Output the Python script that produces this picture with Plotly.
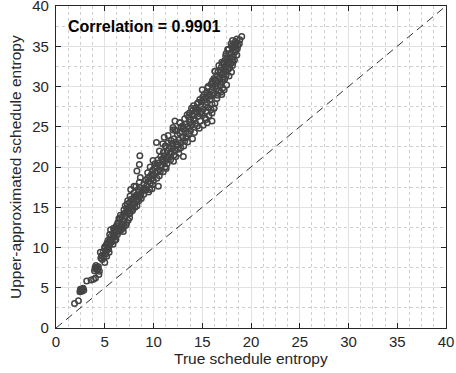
import plotly.graph_objects as go

# True schedule entropy (x) and upper-approximated schedule entropy (y)
true_entropy = [
    1.90, 2.30, 2.45, 2.55, 2.62, 2.70, 2.78, 2.85, 2.50, 2.66,
    3.15, 3.60, 3.85, 4.05, 4.40, 3.95, 4.05, 4.15, 4.25, 4.35, 4.45, 4.10, 4.00, 4.30,
    4.55, 4.75, 5.00, 4.70, 4.90, 5.10, 5.20, 5.30, 5.40, 5.45, 5.20, 4.85, 5.00, 5.15, 4.60, 5.35,
    5.50, 5.60, 5.70, 5.55, 5.80, 5.90, 6.00, 6.10, 5.75, 5.65, 6.20, 6.30, 5.95, 6.05,
    6.40, 6.50, 6.60, 6.70, 6.90, 6.80, 6.20, 6.35, 7.00, 7.20, 6.55, 6.75, 7.10, 7.40, 6.95,
    6.97, 7.20, 7.40, 7.50, 7.65, 7.80, 7.30, 7.55, 7.95, 8.10, 7.70, 8.00, 8.25, 7.45, 8.40, 8.20,
    8.00, 8.30, 8.50, 8.70, 8.90, 8.60, 8.80, 9.10, 9.00, 9.30, 8.45, 9.50, 9.20, 9.70, 8.75, 9.40, 10.00,
    9.60, 9.80, 10.00, 10.20, 10.40, 9.90, 10.10, 10.30, 10.60, 10.80, 10.50, 10.70, 11.00, 9.75, 11.20, 10.45,
    10.90, 11.10, 11.30, 11.50, 11.70, 11.00, 11.40, 11.60, 11.80, 12.00, 11.25, 12.20, 12.40, 11.90, 12.10, 12.55, 10.75,
    11.80, 12.10, 12.30, 12.60, 12.80, 13.00, 13.20, 12.45, 12.70, 12.90, 13.40, 13.60, 12.20, 13.10, 13.80, 13.30, 12.00,
    12.70, 13.00, 13.30, 13.50, 13.70, 13.90, 14.10, 14.30, 14.50, 13.60, 14.00, 14.20, 14.60, 14.80, 15.00, 15.30, 13.20, 14.40,
    13.70, 14.00, 14.30, 14.60, 14.85, 15.10, 15.35, 15.60, 14.50, 14.90, 15.20, 15.50, 15.80, 16.00, 15.05, 15.75, 16.20,
    15.20, 15.45, 15.70, 15.95, 16.20, 16.45, 16.70, 15.60, 15.90, 16.10, 16.40, 16.60, 16.85, 17.10, 16.30, 17.00, 17.30,
    16.20, 16.50, 16.75, 17.00, 17.25, 16.60, 16.90, 17.15, 17.40, 17.65, 16.95, 17.50, 17.80, 17.20, 16.30,
    17.00, 17.30, 17.55, 17.80, 18.05, 17.40, 17.70, 17.95, 18.20, 18.45, 17.60, 18.10, 18.35, 17.85,
    17.70, 18.00, 18.25, 18.50, 18.65, 18.80, 19.05, 18.40,
    7.66, 8.00, 8.30, 8.55, 8.60, 10.30, 11.10, 12.00, 12.20, 12.70, 13.70, 13.90, 14.60, 16.30,
    10.50, 8.10, 13.06, 16.00, 16.20, 17.00, 17.70,
    5.00, 5.25, 5.50, 5.85, 6.15, 5.35, 5.60, 5.90,
    6.10, 6.45, 6.85, 7.25, 7.55, 6.60, 7.00, 7.60, 6.30,
    7.10, 7.35, 7.85, 8.30, 8.50, 7.60, 7.90, 8.60, 7.25,
    8.20, 8.55, 9.00, 9.50, 9.85, 8.65, 9.20, 9.90, 8.40, 9.60,
    9.40, 9.65, 10.15, 10.60, 11.00, 11.30, 9.95, 10.35, 10.90, 11.40,
    10.60, 11.20, 11.75, 12.30, 12.60, 10.95, 11.50, 12.05, 12.80, 11.35,
    11.50, 12.00, 12.50, 13.10, 13.50, 14.00, 12.35, 12.85, 13.70, 14.20,
    13.10, 13.45, 14.70, 15.10, 15.50, 15.70, 13.80, 14.90, 15.40, 16.00,
    14.10, 14.40, 14.75, 15.40, 15.90, 16.30, 16.50, 14.75, 15.55, 16.10,
    15.00, 15.35, 15.85, 16.55, 16.90, 17.25, 17.50, 16.05, 15.55, 16.75,
    16.05, 16.40, 17.10, 17.45, 17.75, 18.00, 16.70, 17.30, 18.10,
    17.15, 17.45, 17.90, 18.30, 18.55, 17.65, 18.15, 18.60,
    17.95, 18.25, 18.55, 18.85, 18.45, 18.10,
]
upper_entropy = [
    3.05, 3.40, 4.50, 4.62, 4.75, 4.85, 4.95, 4.70, 4.80, 4.55,
    5.85, 5.95, 6.05, 6.20, 6.65, 7.10, 7.35, 7.55, 7.20, 7.60, 7.05, 7.75, 7.50, 7.40,
    9.40, 8.50, 8.15, 9.00, 8.80, 9.20, 9.60, 10.00, 9.80, 9.40, 8.90, 9.50, 9.90, 10.30, 8.70, 10.40,
    10.30, 10.60, 10.90, 11.00, 11.20, 11.50, 11.80, 11.30, 10.70, 11.40, 12.00, 11.60, 12.10, 10.90,
    12.30, 12.00, 12.60, 12.20, 12.00, 12.90, 12.70, 13.10, 13.30, 12.80, 13.50, 13.80, 13.90, 13.40, 14.20,
    14.70, 14.40, 14.90, 14.20, 15.10, 14.80, 15.40, 15.60, 15.30, 15.00, 16.00, 16.20, 15.70, 14.50, 16.10, 16.50,
    16.80, 16.40, 16.90, 16.60, 17.20, 17.50, 17.00, 17.40, 17.90, 17.70, 17.20, 18.20, 18.40, 18.00, 16.10, 18.60, 18.30,
    18.80, 19.10, 18.90, 19.30, 19.50, 19.60, 19.90, 20.10, 19.70, 20.20, 20.50, 19.40, 20.60, 18.50, 20.00, 20.90,
    21.00, 21.40, 20.80, 21.20, 21.60, 21.80, 22.00, 22.30, 21.90, 22.40, 22.60, 22.10, 22.80, 22.90, 21.50, 22.20, 21.30,
    23.30, 23.50, 23.10, 23.40, 23.00, 23.70, 23.20, 24.00, 24.20, 24.40, 23.80, 24.10, 24.60, 24.80, 24.50, 23.60, 24.90,
    25.50, 25.10, 25.30, 25.00, 25.60, 25.20, 25.80, 25.40, 25.10, 26.20, 26.40, 26.00, 26.30, 25.70, 26.60, 26.10, 26.00, 26.80,
    26.70, 27.00, 27.30, 27.10, 27.50, 27.20, 27.70, 27.40, 27.90, 28.10, 28.30, 28.00, 28.40, 27.80, 28.70, 28.90, 27.30,
    29.00, 29.30, 29.10, 29.50, 29.20, 29.70, 29.40, 30.00, 30.30, 29.90, 30.10, 30.50, 30.20, 29.80, 30.80, 30.60, 30.90,
    31.00, 31.30, 31.10, 31.50, 31.20, 31.80, 32.00, 31.70, 31.90, 32.10, 32.40, 32.50, 32.30, 32.80, 31.90,
    33.00, 33.20, 33.50, 33.10, 33.40, 33.80, 34.00, 34.20, 33.70, 34.50, 34.60, 34.80, 34.30, 33.60,
    34.60, 35.00, 35.20, 35.40, 35.10, 35.30, 36.20, 35.60,
    17.20, 17.60, 19.50, 20.30, 21.40, 23.05, 23.70, 24.60, 25.70, 25.50, 26.70, 27.30, 28.00, 31.90,
    17.60, 15.50, 21.30, 25.70, 27.30, 29.00, 34.60,
    10.10, 10.60, 11.60, 10.40, 11.00, 10.90, 12.20, 12.40,
    12.40, 13.60, 12.40, 13.10, 13.70, 14.00, 12.60, 14.30, 12.90,
    15.20, 15.80, 14.60, 15.20, 15.80, 16.40, 15.90, 16.30, 14.90,
    17.60, 18.10, 16.60, 16.90, 17.30, 18.70, 17.10, 17.80, 16.50, 17.20,
    19.30, 20.00, 20.40, 18.90, 19.40, 19.80, 20.80, 18.60, 20.90, 20.40,
    22.00, 22.60, 20.90, 21.30, 21.70, 22.90, 23.00, 20.70, 22.40, 21.10,
    23.90, 22.60, 22.70, 22.60, 23.10, 23.50, 24.50, 25.00, 24.90, 24.30,
    24.70, 26.50, 24.80, 25.20, 25.50, 26.40, 25.90, 26.90, 25.90, 26.70,
    27.60, 26.90, 28.40, 26.90, 27.10, 27.90, 28.50, 26.60, 28.80, 28.90,
    29.60, 28.60, 28.80, 28.90, 29.30, 29.60, 30.20, 30.70, 29.80, 31.00,
    30.40, 30.70, 30.90, 31.40, 31.30, 31.80, 32.60, 32.20, 32.60,
    32.90, 34.10, 32.80, 33.30, 33.90, 33.30, 33.00, 34.70,
    35.30, 34.90, 35.90, 35.80, 35.00, 35.70,
]

axis_range = [0, 40]
tick_values = [0, 5, 10, 15, 20, 25, 30, 35, 40]
x_title = "True schedule entropy"
y_title = "Upper-approximated schedule entropy"
note_text = "<b>Correlation = 0.9901</b>"

FONT = "Liberation Sans, Arial, Helvetica, sans-serif"
INK = "#262626"

fig = go.Figure()
fig.add_trace(go.Scatter(
    x=axis_range, y=axis_range, mode="lines",
    line=dict(color="#333333", width=1, dash="8px,5px"),
    hoverinfo="skip", showlegend=False,
))
fig.add_trace(go.Scatter(
    x=true_entropy, y=upper_entropy, mode="markers",
    marker=dict(symbol="circle-open", size=5.5, color="#444444", line=dict(width=1.5, color="#444444")),
    showlegend=False,
))

axis_common = dict(
    range=axis_range, tickvals=tick_values, automargin=False,
    showline=True, linecolor=INK, linewidth=1.2, mirror="ticks",
    ticks="inside", ticklen=5, tickcolor=INK, tickwidth=1,
    showgrid=True, gridcolor="#e2e2e2", gridwidth=1,
    zeroline=False, ticklabeloverflow="allow",
    tickfont=dict(family=FONT, size=15, color=INK),
)

fig.update_xaxes(
    **axis_common,
    minor=dict(dtick=1.25, showgrid=True, gridcolor="#cfcfcf", griddash="dot", gridwidth=1),
)
fig.update_yaxes(
    **axis_common,
    ticklabelstandoff=3,
    minor=dict(dtick=2.5, showgrid=True, gridcolor="#cfcfcf", griddash="dot", gridwidth=1),
)

fig.add_annotation(
    x=0.5, y=0, xref="paper", yref="paper", yshift=-30, text=x_title, showarrow=False,
    xanchor="center", yanchor="middle",
    font=dict(family=FONT, size=15.5, color=INK),
)
fig.add_annotation(
    x=0, y=0.5, xref="paper", yref="paper", xshift=-41, text=y_title, showarrow=False,
    textangle=-90, xanchor="center", yanchor="middle",
    font=dict(family=FONT, size=15.5, color=INK),
)
fig.add_annotation(
    x=1.0, y=37.5, xref="x", yref="y", text=note_text, showarrow=False,
    xanchor="left", yanchor="middle",
    font=dict(family=FONT, size=16, color="#000000"),
)

fig.update_layout(
    width=456, height=373,
    margin=dict(l=56, r=10, t=6, b=45),
    plot_bgcolor="white", paper_bgcolor="white",
)

fig.write_html(
    "out.html",
    config={"displayModeBar": False},
    post_script="document.body.style.margin='0';document.body.style.padding='0';",
)
